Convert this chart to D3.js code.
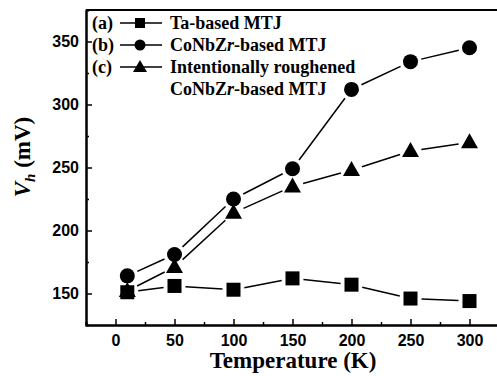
<!DOCTYPE html>
<html>
<head>
<meta charset="utf-8">
<script src="https://cdn.jsdelivr.net/npm/d3@7"></script>
<style>
  body { margin: 0; background: #fff; }
  svg { display: block; }
</style>
</head>
<body>
<div id="chart"></div>
<script>
// data
const temps = [10, 50, 100, 150, 200, 250, 300];
const taMTJ = [151, 156, 153, 162, 157, 146, 144];
const conbzrMTJ = [164, 181, 225, 249, 312, 334, 345];
const roughMTJ = [152, 171, 214, 235, 248, 263, 270];
const xTicks = [0, 50, 100, 150, 200, 250, 300];
const yTicks = [150, 200, 250, 300, 350];

const W = 497, H = 376;
const plotLeft = 86, plotTop = 10, plotBottom = 325, plotRight = 499;
const serif = "Liberation Serif, Times New Roman, Times, DejaVu Serif, serif";

const svg = d3.select("#chart").append("svg")
    .attr("width", W).attr("height", H);

const x = d3.scaleLinear().domain([-25, 325]).range([plotLeft, plotRight]);
const y = d3.scaleLinear().domain([125, 375]).range([plotBottom, plotTop]);

// axes, ticks point inward
svg.append("g")
    .attr("transform", `translate(0,${plotBottom})`)
    .call(d3.axisBottom(x).tickValues(xTicks).tickSizeInner(-6).tickSizeOuter(0).tickPadding(10));
svg.append("g")
    .attr("transform", `translate(0,${plotBottom})`)
    .call(d3.axisBottom(x).tickValues(d3.range(-25, 326, 50)).tickSize(-3).tickFormat(""));

svg.append("g")
    .attr("transform", `translate(${plotLeft},0)`)
    .call(d3.axisLeft(y).tickValues(yTicks).tickSizeInner(-6).tickSizeOuter(0).tickPadding(7));
svg.append("g")
    .attr("transform", `translate(${plotLeft},0)`)
    .call(d3.axisLeft(y).tickValues(d3.range(175, 376, 50)).tickSize(-3).tickFormat(""));

svg.selectAll(".domain").attr("stroke", "#000").attr("stroke-width", 2);
svg.selectAll(".tick line").attr("stroke", "#000").attr("stroke-width", 1.5);
svg.selectAll(".tick text")
    .attr("fill", "#000")
    .attr("font-family", "Liberation Sans, Arial, sans-serif")
    .attr("font-weight", "bold")
    .attr("font-size", 16);

// top frame line
svg.append("line")
    .attr("x1", plotLeft).attr("x2", W).attr("y1", plotTop).attr("y2", plotTop)
    .attr("stroke", "#000").attr("stroke-width", 2);

// axis titles
svg.append("text")
    .attr("x", 293).attr("y", 368)
    .attr("text-anchor", "middle")
    .attr("font-family", serif)
    .attr("font-weight", "bold")
    .attr("font-size", 23)
    .text("Temperature (K)");

const yl = svg.append("text")
    .attr("transform", "translate(30,157) rotate(-90)")
    .attr("text-anchor", "middle")
    .attr("font-family", serif)
    .attr("font-weight", "bold")
    .attr("font-size", 23);
yl.append("tspan").attr("font-style", "italic").text("V");
yl.append("tspan").attr("font-style", "italic").attr("font-size", 15).attr("dy", 5).text("h");
yl.append("tspan").attr("dy", -5).text(" (mV)");

// markers
function marker(g, shape, cx, cy) {
    if (shape === "square") {
        g.append("rect").attr("x", cx - 7).attr("y", cy - 7).attr("width", 14).attr("height", 14).attr("fill", "#000");
    } else if (shape === "circle") {
        g.append("circle").attr("cx", cx).attr("cy", cy).attr("r", 7.5).attr("fill", "#000");
    } else {
        g.append("path").attr("d", `M${cx},${cy - 9}L${cx + 8.5},${cy + 6}L${cx - 8.5},${cy + 6}Z`).attr("fill", "#000");
    }
}

const series = [
    { vals: taMTJ, shape: "square" },
    { vals: conbzrMTJ, shape: "circle" },
    { vals: roughMTJ, shape: "triangle" }
];

const plot = svg.append("g");
const gap = 11;
series.forEach(s => {
    const pts = temps.map((t, i) => [x(t), y(s.vals[i])]);
    for (let i = 0; i < pts.length - 1; i++) {
        const [x1, y1] = pts[i], [x2, y2] = pts[i + 1];
        const len = Math.hypot(x2 - x1, y2 - y1);
        if (len <= 2 * gap) continue;
        const ux = (x2 - x1) / len, uy = (y2 - y1) / len;
        plot.append("line")
            .attr("x1", x1 + ux * gap).attr("y1", y1 + uy * gap)
            .attr("x2", x2 - ux * gap).attr("y2", y2 - uy * gap)
            .attr("stroke", "#000").attr("stroke-width", 1.5);
    }
    pts.forEach(p => marker(plot, s.shape, p[0], p[1]));
});

// legend
const legendRows = [
    { tag: "(a)", shape: "square", lines: [["Ta-based MTJ"]] },
    { tag: "(b)", shape: "circle", lines: [["CoNbZr", "-based MTJ"]] },
    { tag: "(c)", shape: "triangle", lines: [["Intentionally roughened"], ["CoNbZr", "-based MTJ"]] }
];
const lg = svg.append("g")
    .attr("font-family", serif)
    .attr("font-weight", "bold")
    .attr("font-size", 18);
let ry = 23;
legendRows.forEach(r => {
    lg.append("text").attr("x", 92).attr("y", ry + 6).text(r.tag);
    lg.append("line").attr("x1", 120).attr("x2", 162).attr("y1", ry).attr("y2", ry)
        .attr("stroke", "#000").attr("stroke-width", 1.5);
    const mg = lg.append("g");
    if (r.shape === "square") mg.append("rect").attr("x", 135).attr("y", ry - 5).attr("width", 10).attr("height", 10);
    else if (r.shape === "circle") mg.append("circle").attr("cx", 140).attr("cy", ry).attr("r", 5.5);
    else mg.append("path").attr("d", `M140,${ry - 7}L147,${ry + 5}L133,${ry + 5}Z`);
    r.lines.forEach((ln, k) => {
        const t = lg.append("text").attr("x", 170).attr("y", ry + 6 + k * 22);
        if (ln.length === 2) {
            t.append("tspan").text("CoNbZ");
            t.append("tspan").attr("font-style", "italic").text("r");
            t.append("tspan").text(ln[1]);
        } else {
            t.text(ln[0]);
        }
    });
    ry += 22;
});
</script>
</body>
</html>
